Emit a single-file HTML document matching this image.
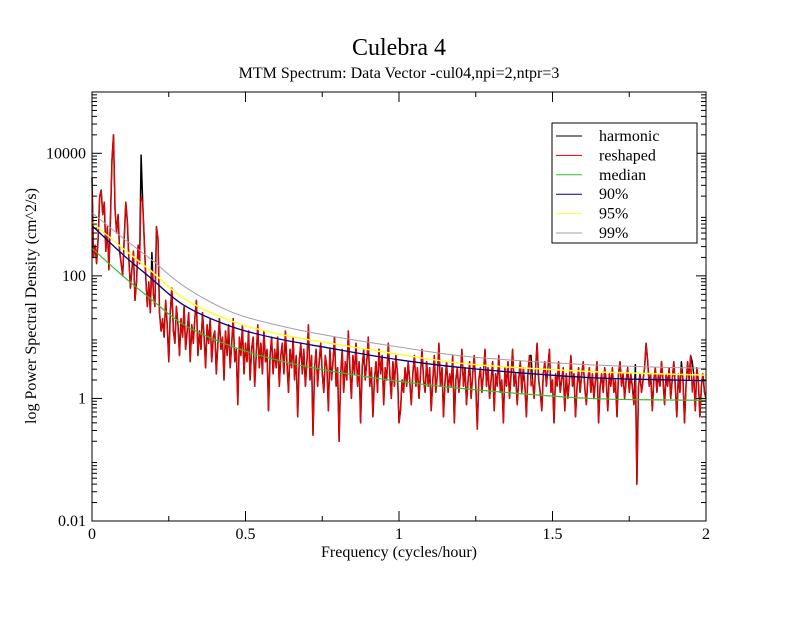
<!DOCTYPE html>
<html><head><meta charset="utf-8"><style>
body{margin:0;background:#fff;}
svg text{font-family:"Liberation Serif",serif;fill:#000;}
</style></head><body>
<svg id="chart" width="792" height="612" xmlns="http://www.w3.org/2000/svg">
<rect width="792" height="612" fill="#fff"/>
<text x="399" y="55" font-size="24" text-anchor="middle">Culebra 4</text>
<text x="399" y="78" font-size="16" text-anchor="middle">MTM Spectrum: Data Vector -cul04,npi=2,ntpr=3</text>
<text x="399" y="557" font-size="16" text-anchor="middle">Frequency (cycles/hour)</text>
<text transform="translate(36,306) rotate(-90)" font-size="16" text-anchor="middle">log Power Spectral Density (cm^2/s)</text>
<g id="plot"></g>
<rect x="92" y="92" width="614" height="429" fill="none" stroke="#000" stroke-width="1"/>
<g id="ticks"></g>
<g>
<rect x="552" y="123" width="145" height="120" fill="#fff" stroke="#000"/>
</g>
<g id="legend-items"></g>
</svg>
<script>
const xTicks=[0,0.5,1,1.5,2];
const xTickLabels=["0","0.5","1","1.5","2"];
const yTickExps=[-2,0,2,4];
const yTickLabels=["0.01","1","100","10000"];
const reshapedLog=[
3.6,2.3,2.5,2.2,2.6,3.3,3.4,3.0,3.2,2.4,2.8,2.1,2.9,3.9,4.3,3.1,2.7,3.0,2.4,2.2,
2.0,2.6,3.2,2.9,2.3,1.8,2.1,2.4,1.6,1.9,2.5,2.2,3.3,3.2,2.6,2.0,1.5,1.9,1.4,2.1,
1.7,1.5,2.8,2.6,1.4,1.1,1.3,1.0,1.6,1.2,0.6,1.4,1.8,1.1,0.9,1.5,1.2,0.7,1.3,1.0,
1.5,0.8,1.1,1.4,0.6,1.2,0.9,1.3,1.6,0.7,1.1,0.8,1.4,1.0,0.5,1.2,0.9,1.3,0.6,1.0,
1.1,0.4,0.9,1.3,0.8,1.0,0.3,1.1,0.7,1.2,0.5,0.9,1.3,0.6,0.8,-0.1,1.0,0.7,1.2,0.4,
0.9,0.6,1.1,0.3,0.8,1.0,0.2,0.7,1.2,0.5,0.9,0.4,1.1,0.6,0.8,-0.2,0.7,1.0,0.4,0.8,
0.5,1.0,0.2,0.7,0.9,0.4,1.1,0.6,0.1,0.8,0.5,1.0,0.3,0.7,-0.3,0.6,0.9,0.4,0.8,0.2,
0.6,1.2,0.3,0.7,-0.6,0.5,0.8,0.2,0.6,0.9,0.4,0.1,0.7,0.5,-0.2,0.8,0.3,0.6,1.0,0.2,
0.5,-0.7,0.4,0.8,0.1,0.6,0.3,1.1,0.5,0.0,0.7,0.4,0.9,0.2,0.6,-0.4,0.5,0.8,0.3,0.6,
1.0,0.2,0.5,-0.3,0.3,0.6,0.1,0.8,0.4,0.7,-0.1,0.5,0.3,0.9,0.4,0.0,0.6,0.2,0.7,0.4,
-0.4,-0.2,0.3,0.1,0.5,0.2,0.6,0.3,-0.1,0.4,0.7,0.2,0.5,0.0,0.4,0.8,0.3,0.1,0.6,0.2,
0.5,-0.2,0.3,0.7,0.1,0.4,0.9,0.2,0.5,-0.3,0.3,0.6,0.1,0.4,0.2,0.7,-0.4,0.3,0.5,0.1,
0.4,0.8,0.2,0.5,-0.1,0.3,0.6,0.0,0.4,0.7,0.2,-0.5,0.3,0.5,0.1,0.4,0.8,0.2,0.5,0.0,
0.3,0.6,-0.2,0.4,0.2,0.7,0.1,0.3,-0.4,0.5,0.2,0.6,0.0,0.4,0.8,0.2,0.4,-0.1,0.3,0.6,
0.1,0.5,0.2,-0.3,0.4,0.7,0.2,0.3,0.0,0.5,0.9,0.3,0.1,-0.2,0.4,0.6,0.2,0.5,0.8,0.1,
0.3,-0.4,0.4,0.2,0.6,0.1,0.3,0.5,-0.2,0.4,0.0,0.3,0.7,0.2,0.4,-0.3,0.2,0.5,0.1,0.4,
0.6,0.2,-0.1,0.3,0.5,0.1,0.4,0.0,0.3,0.6,-0.4,0.2,0.4,0.1,0.5,0.3,-0.2,0.4,0.2,0.5,
0.1,0.3,-0.3,0.4,0.6,0.2,0.4,0.0,0.3,0.5,0.1,0.4,0.2,-0.1,0.3,-1.4,0.2,0.4,0.1,0.3,
0.5,0.9,0.6,0.2,0.4,-0.2,0.3,0.5,0.1,0.4,0.2,0.6,0.3,-0.1,0.4,0.2,0.5,0.0,0.3,0.6,
0.2,-0.3,0.4,0.1,0.5,0.3,-0.4,0.2,0.6,0.3,0.7,0.1,0.4,-0.2,0.5,0.3,-0.3,0.2,0.4,0.1,
0.0];
const freqStep=0.005;
const harmonicFreqs=[0.16,0.195,1.43,1.77,1.92,1.955];
const harmonicLog=[3.97,2.38,0.7,0.55,0.6,0.6];
const curveFreqs=[0,0.1,0.19,0.3,0.45,0.6,0.775,1.0,1.23,1.62,2.0];
const medianLog=[2.45,2.0,1.63,1.2,0.86,0.63,0.45,0.28,0.15,0.0,-0.03];
const p90Log=[2.82,2.35,1.97,1.52,1.18,0.98,0.82,0.63,0.49,0.34,0.29];
const p95Log=[2.87,2.45,2.09,1.63,1.27,1.06,0.9,0.72,0.56,0.44,0.38];
const p99Log=[3.03,2.62,2.28,1.83,1.42,1.2,1.02,0.84,0.68,0.55,0.49];

const X0=92,X1=706,Y0=521,Y1=92;
const xs=f=>X0+(f/2)*(X1-X0);
const ys=l=>Y0-(l+2)/7*(Y0-Y1);
const NS="http://www.w3.org/2000/svg";
const plot=document.getElementById('plot');
function mk(tag,attrs,parent){const e=document.createElementNS(NS,tag);for(const k in attrs)e.setAttribute(k,attrs[k]);parent.appendChild(e);return e;}
function poly(fr,vals,color,name,w){
  const pts=fr.map((f,i)=>xs(f).toFixed(1)+','+ys(vals[i]).toFixed(1)).join(' ');
  const p=mk('polyline',{points:pts,fill:'none',stroke:color,'stroke-width':w,'stroke-linejoin':'round'},plot);
  
  
}
function smooth(fr,vals,color,name,w){
  const P=fr.map((f,i)=>[xs(f),ys(vals[i])]);
  let d='M'+P[0][0]+','+P[0][1];
  for(let i=0;i<P.length-1;i++){
    const p0=P[Math.max(i-1,0)],p1=P[i],p2=P[i+1],p3=P[Math.min(i+2,P.length-1)];
    const c1=[p1[0]+(p2[0]-p0[0])/6,p1[1]+(p2[1]-p0[1])/6];
    const c2=[p2[0]-(p3[0]-p1[0])/6,p2[1]-(p3[1]-p1[1])/6];
    d+=' C'+c1.join(',')+' '+c2.join(',')+' '+p2.join(',');
  }
  const p=mk('path',{d:d,fill:'none',stroke:color,'stroke-width':w},plot);
  
  
}
const rf=reshapedLog.map((v,i)=>i*freqStep);
const harm=reshapedLog.slice();
harmonicFreqs.forEach((f,j)=>{const i=Math.round(f/freqStep);harm[i]=Math.max(harm[i],harmonicLog[j]);});
poly(rf,harm,'#000','harmonic-series',1.5);
poly(rf,reshapedLog,'#f00000','reshaped-series',1.2);
smooth(curveFreqs,p99Log,'#a89ca8','p99-curve',1);
smooth(curveFreqs,p95Log,'#ffff30','p95-curve',1.5);
smooth(curveFreqs,p90Log,'#000080','p90-curve',1.3);
smooth(curveFreqs,medianLog,'#30c030','median-curve',1.2);

const tg=document.getElementById('ticks');
xTicks.forEach((t,i)=>{
  const x=xs(t);
  mk('line',{x1:x,y1:Y0,x2:x,y2:Y0-10,stroke:'#000'},tg);
  mk('line',{x1:x,y1:Y1,x2:x,y2:Y1+10,stroke:'#000'},tg);
  const tx=mk('text',{x:x,y:539,'font-size':16,'text-anchor':'middle'},tg);
  tx.textContent=xTickLabels[i];
  
  
  if(i<xTicks.length-1){const m=xs(t+0.25);
    mk('line',{x1:m,y1:Y0,x2:m,y2:Y0-5,stroke:'#000'},tg);
    mk('line',{x1:m,y1:Y1,x2:m,y2:Y1+5,stroke:'#000'},tg);}
});
yTickExps.forEach((e,i)=>{
  const y=ys(e);
  mk('line',{x1:X0,y1:y,x2:X0+10,y2:y,stroke:'#000'},tg);
  mk('line',{x1:X1,y1:y,x2:X1-10,y2:y,stroke:'#000'},tg);
  const tx=mk('text',{x:86,y:y+5,'font-size':16,'text-anchor':'end'},tg);
  tx.textContent=yTickLabels[i];
  
  
});
for(let d=-2;d<5;d++){for(let m=2;m<10;m++){const y=ys(d+Math.log10(m));
  mk('line',{x1:X0,y1:y,x2:X0+5,y2:y,stroke:'#000'},tg);
  mk('line',{x1:X1,y1:y,x2:X1-5,y2:y,stroke:'#000'},tg);}}

const legendNames=["harmonic","reshaped","median","90%","95%","99%"];
const legendColors=["#000","#e00000","#30c030","#000080","#ffff30","#a89ca8"];
const lg=document.getElementById('legend-items');
legendNames.forEach((n,i)=>{
  const y=136+i*19.4;
  const g=mk('g',{},lg);
  
  
  mk('line',{x1:556,y1:y,x2:582,y2:y,stroke:legendColors[i],'stroke-width':1},g);
  const t=mk('text',{x:599,y:y+5,'font-size':16},g);
  t.textContent=n;
});
</script>
</body></html>
